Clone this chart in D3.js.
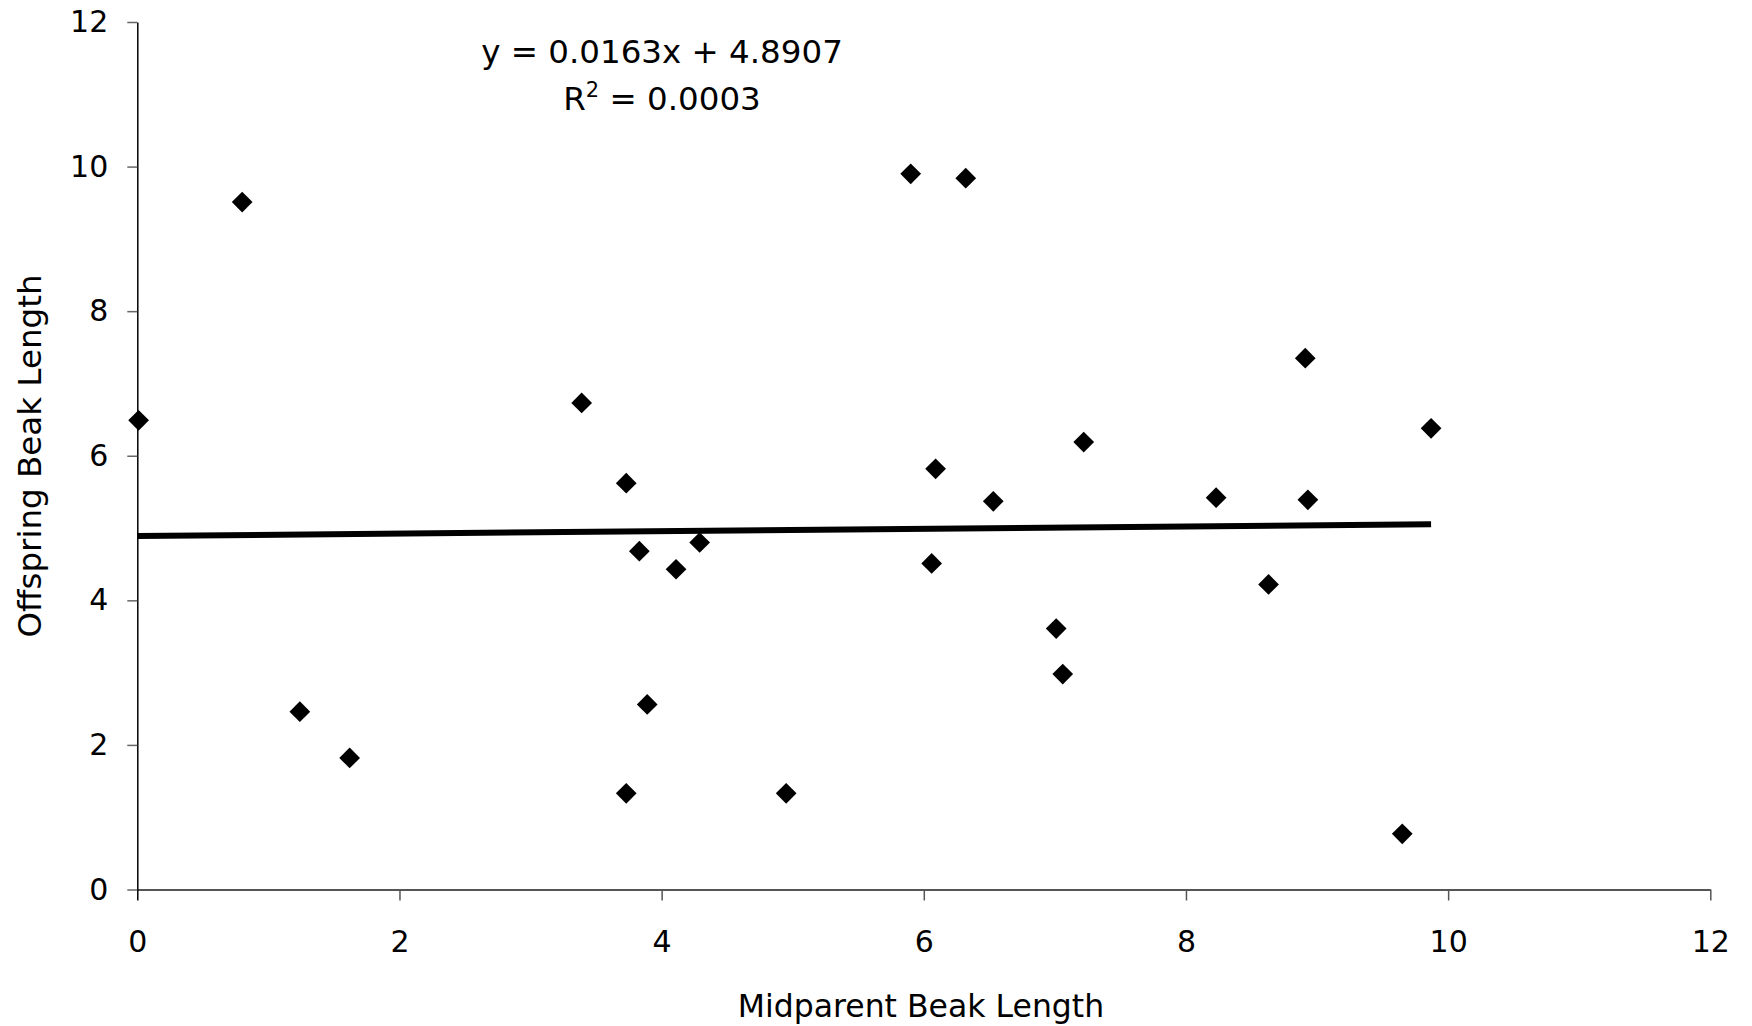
<!DOCTYPE html>
<html>
<head>
<meta charset="utf-8">
<script src="https://cdnjs.cloudflare.com/ajax/libs/d3/7.8.5/d3.min.js"></script>
<style>
    body { margin: 0; background: #fff; }
    text { font-family: "DejaVu Sans", Verdana, sans-serif; fill: #000; }
    .tick text { font-size: 30px; }
</style>
</head>
<body>
<div id="chart"></div>
<script>
// midparent vs offspring beak length
var midparent = [0.01, 0.80, 1.24, 1.62, 3.39, 3.73, 3.83, 3.89, 3.73, 4.11, 4.29, 4.95, 5.90,
    6.32, 6.09, 6.06, 6.53, 7.01, 7.06, 7.22, 8.23, 8.63, 8.91, 8.93, 9.65, 9.87];
var offspring = [6.49, 9.51, 2.46, 1.82, 6.73, 5.62, 4.68, 2.56, 1.33, 4.43, 4.80, 1.33, 9.90,
    9.84, 5.82, 4.51, 5.37, 3.61, 2.98, 6.19, 5.42, 4.22, 7.35, 5.39, 0.77, 6.38];
var trendSlope = 0.0163;
var trendIntercept = 4.8907;
var rSquared = "0.0003";
var ticks = [0, 2, 4, 6, 8, 10, 12];

var width = 1752,
    height = 1026;

var svg = d3.select("#chart").append("svg")
    .attr("width", width)
    .attr("height", height);

var x = d3.scaleLinear().domain([0, 12]).range([137.3, 1710.3]);
var y = d3.scaleLinear().domain([0, 12]).range([889.5, 22]);

var xAxis = d3.axisBottom(x)
    .tickValues(ticks)
    .tickSize(11)
    .tickSizeOuter(0)
    .tickPadding(30);

var yAxis = d3.axisLeft(y)
    .tickValues(ticks)
    .tickSize(10)
    .tickSizeOuter(0)
    .tickPadding(19);

var gx = svg.append("g")
    .attr("transform", "translate(0," + y(0) + ")")
    .call(xAxis);
gx.select(".domain").attr("stroke", "#555").attr("stroke-width", 2);
gx.selectAll(".tick line").attr("stroke", "#555").attr("stroke-width", 1.5);

var gy = svg.append("g")
    .attr("transform", "translate(" + x(0) + ",0)")
    .call(yAxis);
gy.select(".domain").attr("stroke", "#000").attr("stroke-width", 1.5);
gy.selectAll(".tick line").attr("stroke", "#666").attr("stroke-width", 1.5);

// x=0 tick sits on the y axis line, keep it black
gx.selectAll(".tick line").filter(function (d) { return d == 0; }).attr("stroke", "#000");

var points = midparent.map(function (d, i) { return { x: d, y: offspring[i] }; });

// trend line, from 0 to the largest midparent value
var xMax = d3.max(midparent);
var line = d3.line()
    .x(function (d) { return x(d); })
    .y(function (d) { return y(trendSlope * d + trendIntercept); });

svg.append("path")
    .datum([0, xMax])
    .attr("d", line)
    .attr("fill", "none")
    .attr("stroke", "#000")
    .attr("stroke-width", 6);

var diamond = d3.symbol().type(d3.symbolSquare).size(215);

svg.selectAll(".point")
    .data(points)
    .enter()
    .append("path")
    .attr("class", "point")
    .attr("d", diamond)
    .attr("transform", function (d) {
        return "translate(" + x(d.x) + "," + y(d.y) + ") rotate(45)";
    })
    .attr("fill", "#000");

// equation label
svg.append("text")
    .attr("x", 662)
    .attr("y", 63)
    .attr("text-anchor", "middle")
    .style("font-size", "32.5px")
    .text("y = " + trendSlope + "x + " + trendIntercept);

var r2 = svg.append("text")
    .attr("x", 662)
    .attr("y", 110)
    .attr("text-anchor", "middle")
    .style("font-size", "32.5px");
r2.append("tspan").text("R");
r2.append("tspan").attr("dy", -13).style("font-size", "21px").text("2");
r2.append("tspan").attr("dy", 13).text(" = " + rSquared);

// axis titles
svg.append("text")
    .attr("x", 921)
    .attr("y", 1017)
    .attr("text-anchor", "middle")
    .style("font-size", "31.5px")
    .text("Midparent Beak Length");

svg.append("text")
    .attr("transform", "translate(41,456) rotate(-90)")
    .attr("text-anchor", "middle")
    .style("font-size", "32.5px")
    .text("Offspring Beak Length");
</script>
</body>
</html>
